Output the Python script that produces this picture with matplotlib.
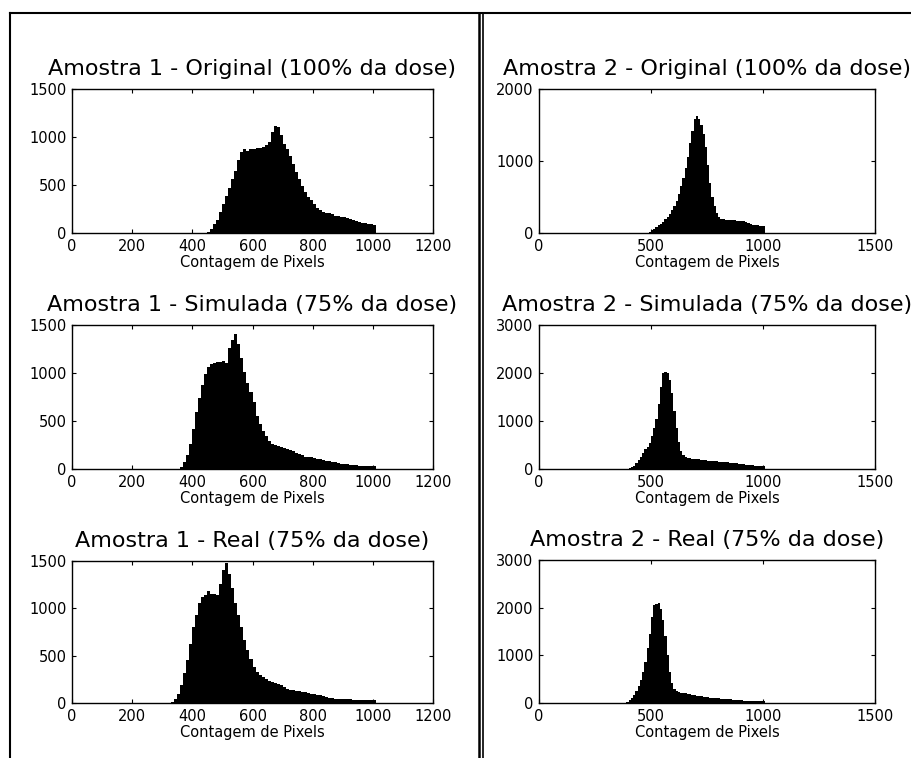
import numpy as np
import matplotlib
matplotlib.use('Agg')
import matplotlib.pyplot as plt
from matplotlib.lines import Line2D

plt.rcParams['font.family'] = ['DejaVu Sans']

# bin width of the histograms (intensity units)
bin_w = 10

# Amostra 1 - Original, bins start at 450
a1_orig_start = 450
a1_orig = [10, 45, 90, 140, 220, 300, 390, 470, 560, 650, 760, 840, 870, 850, 880,
           870, 890, 890, 900, 920, 950, 1050, 1110, 1100, 1020, 930, 880, 800, 720,
           640, 560, 490, 430, 380, 340, 300, 265, 240, 222, 212, 205, 195, 180, 175,
           170, 165, 155, 145, 135, 125, 118, 105, 100, 92, 90, 88]

# Amostra 1 - Simulada, bins start at 350
a1_sim_start = 350
a1_sim = [5, 25, 70, 150, 260, 420, 590, 740, 870, 990, 1060, 1090, 1100, 1110, 1110,
          1120, 1100, 1260, 1340, 1410, 1300, 1160, 1010, 900, 800, 700, 550, 470, 400,
          345, 295, 265, 245, 235, 225, 220, 210, 195, 185, 170, 160, 145, 130, 125,
          120, 115, 108, 100, 90, 85, 80, 78, 70, 62, 55, 50, 47, 43, 40, 37, 35, 33,
          32, 33, 33, 35]

# Amostra 1 - Real, bins start at 330
a1_real_start = 330
a1_real = [10, 40, 100, 190, 320, 450, 620, 800, 930, 1060, 1120, 1140, 1180, 1150,
           1150, 1140, 1260, 1400, 1480, 1360, 1220, 1060, 930, 800, 670, 560, 460,
           380, 330, 295, 270, 250, 235, 225, 215, 205, 190, 165, 150, 142, 138, 132,
           122, 117, 112, 106, 98, 90, 86, 82, 70, 60, 53, 48, 46, 44, 43, 41, 39, 37,
           35, 33, 32, 32, 32, 32, 32, 32]

# Amostra 2 - Original, bins start at 490
a2_orig_start = 490
a2_orig = [15, 40, 60, 85, 110, 130, 155, 190, 225, 265, 320, 380, 450, 540, 650, 760,
           900, 1050, 1250, 1420, 1580, 1630, 1580, 1500, 1380, 1200, 950, 700, 500,
           370, 280, 220, 200, 190, 185, 182, 180, 177, 175, 173, 172, 170, 165, 155,
           145, 130, 118, 112, 108, 104, 102, 100]

# Amostra 2 - Simulada, bins start at 390
a2_sim_start = 390
a2_sim = [10, 25, 45, 70, 120, 190, 260, 340, 410, 460, 540, 680, 850, 1050, 1350,
          1700, 2000, 2030, 1990, 1850, 1580, 1200, 850, 560, 380, 290, 250, 230, 222,
          215, 210, 208, 200, 192, 185, 180, 175, 170, 165, 160, 158, 155, 152, 148,
          145, 140, 135, 128, 120, 115, 110, 105, 98, 92, 85, 78, 74, 70, 65, 60, 57, 55]

# Amostra 2 - Real, bins start at 380
a2_real_start = 380
a2_real = [10, 30, 60, 100, 170, 260, 360, 480, 650, 860, 1150, 1450, 1800, 2050, 2080,
           2090, 1970, 1750, 1400, 1000, 650, 420, 290, 250, 230, 220, 210, 200, 192,
           185, 175, 165, 155, 148, 140, 135, 128, 122, 115, 110, 105, 98, 95, 92, 88,
           85, 80, 75, 70, 65, 60, 57, 55, 52, 50, 50, 49, 48, 47, 46, 45, 45, 44]

titles = ['Amostra 1 - Original (100% da dose)', 'Amostra 2 - Original (100% da dose)',
          'Amostra 1 - Simulada (75% da dose)', 'Amostra 2 - Simulada (75% da dose)',
          'Amostra 1 - Real (75% da dose)', 'Amostra 2 - Real (75% da dose)']
series = [(a1_orig_start, a1_orig), (a2_orig_start, a2_orig),
          (a1_sim_start, a1_sim), (a2_sim_start, a2_sim),
          (a1_real_start, a1_real), (a2_real_start, a2_real)]
x_ticks_left = [0, 200, 400, 600, 800, 1000, 1200]
x_ticks_right = [0, 500, 1000, 1500]
y_ticks = [[0, 500, 1000, 1500], [0, 1000, 2000],
           [0, 500, 1000, 1500], [0, 1000, 2000, 3000],
           [0, 500, 1000, 1500], [0, 1000, 2000, 3000]]
xlabel = 'Contagem de Pixels'

W, H = 911, 758
fig = plt.figure(figsize=(W / 100, H / 100), dpi=100)

# axes boxes in pixels: (left, top, right, bottom)
boxes = [(72, 89, 433, 233), (539, 89, 875, 233),
         (72, 325, 433, 469), (539, 325, 875, 469),
         (72, 561, 433, 703), (539, 560, 875, 703)]

for i, (l, t, r, b) in enumerate(boxes):
    ax = fig.add_axes([l / W, 1 - b / H, (r - l) / W, (b - t) / H])
    start, counts = series[i]
    edges = start + bin_w * np.arange(len(counts) + 1)
    ax.stairs(counts, edges, fill=True, color='black', linewidth=0)
    if i % 2 == 0:
        ax.set_xlim(0, 1200)
        ax.set_xticks(x_ticks_left)
    else:
        ax.set_xlim(0, 1500)
        ax.set_xticks(x_ticks_right)
    ax.set_ylim(y_ticks[i][0], y_ticks[i][-1])
    ax.set_yticks(y_ticks[i])
    ax.tick_params(direction='in', top=True, right=True, length=3, width=0.8,
                   labelsize=10.5, pad=4)
    for s in ax.spines.values():
        s.set_linewidth(1.0)
    ax.set_title(titles[i], fontsize=16, pad=10)
    ax.set_xlabel(xlabel, fontsize=10.5, labelpad=1)

# frame lines around the two columns
def fline(x0, y0, x1, y1, lw):
    fig.add_artist(Line2D([x0 / W, x1 / W], [1 - y0 / H, 1 - y1 / H],
                          transform=fig.transFigure, color='black', linewidth=lw))

fline(10, 13, W, 13, 1.5)
fline(10, 13, 10, H, 1.5)
fline(479, 13, 479, H, 1.8)
fline(483, 13, 483, H, 1.2)

fig.savefig('out.png', dpi=100)
